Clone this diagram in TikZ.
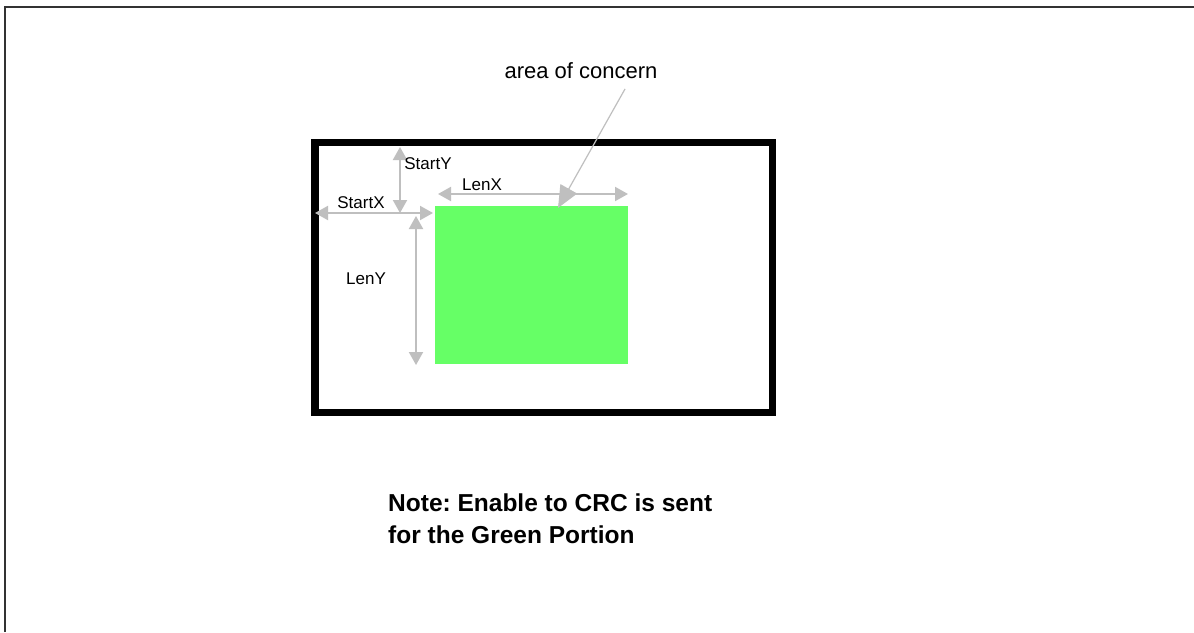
\documentclass[tikz,border=0pt]{standalone}
\usepackage{fontspec}
\setmainfont{Liberation Sans}
\usetikzlibrary{arrows.meta}
\definecolor{dimgray}{HTML}{BFBFBF}
\definecolor{areagreen}{HTML}{66FF66}
\definecolor{framegray}{HTML}{333333}
\frenchspacing
\tikzset{
  dim/.style={draw=dimgray, line width=2pt, {Triangle[length=13pt,width=14pt]}-{Triangle[length=13pt,width=14pt]}},
  callout/.style={draw=dimgray, line width=1.2pt, -{Triangle[length=22pt,width=19pt]}},
  lbl/.style={inner sep=0pt, font=\fontsize{17}{20}\selectfont},
  biglbl/.style={inner sep=0pt, anchor=base, font=\fontsize{22}{26}\selectfont},
  note/.style={inner sep=0pt, anchor=base west, align=left, font=\bfseries\fontsize{24.5}{32}\selectfont}
}
\begin{document}
\begin{tikzpicture}[x=1pt,y=-1pt]
\useasboundingbox (0,0) rectangle (1194,632);
\fill[white] (0,0) rectangle (1194,632);
% outer page frame (partly visible)
\coordinate (fTL) at (5,6.5);
\coordinate (fTR) at (1194,6.5);
\coordinate (fBL) at (5,632);
\draw[framegray, line width=2pt] (fBL) -- (fTL) -- (fTR);
% thick black window
\node[draw=black, line width=7.5pt, minimum width=457.5pt, minimum height=270pt, inner sep=0pt, anchor=north west] (win) at (311,138.5) {};
% green portion
\node[fill=areagreen, minimum width=193pt, minimum height=158pt, inner sep=0pt, anchor=north west] (green) at (435,206) {};
% dimension arrow end points
\coordinate (sx1) at (315,213);
\coordinate (sx2) at (433,213);
\coordinate (sy1) at (400,147);
\coordinate (sy2) at (400,213);
\coordinate (lx1) at (438,194);
\coordinate (lx2) at (628,194);
\coordinate (ly1) at (416,216);
\coordinate (ly2) at (416,365);
\coordinate (ac1) at (625,89);
\coordinate (ac2) at (558,208);
\draw[dim] (sx1) -- (sx2);
\draw[dim] (sy1) -- (sy2);
\draw[dim] (lx1) -- (lx2);
\draw[dim] (ly1) -- (ly2);
\draw[callout] (ac1) -- (ac2);
% labels
\node[lbl] (tsy) at (428,164) {StartY};
\node[lbl] (tlx) at (482,185) {LenX};
\node[lbl] (tsx) at (361,203) {StartX};
\node[lbl] (tly) at (366,279) {LenY};
\node[biglbl] (tac) at (581,78) {area of concern};
\node[note] (nt) at (388,543) {Note: Enable to CRC is sent\\for the Green Portion};
\end{tikzpicture}
\end{document}
